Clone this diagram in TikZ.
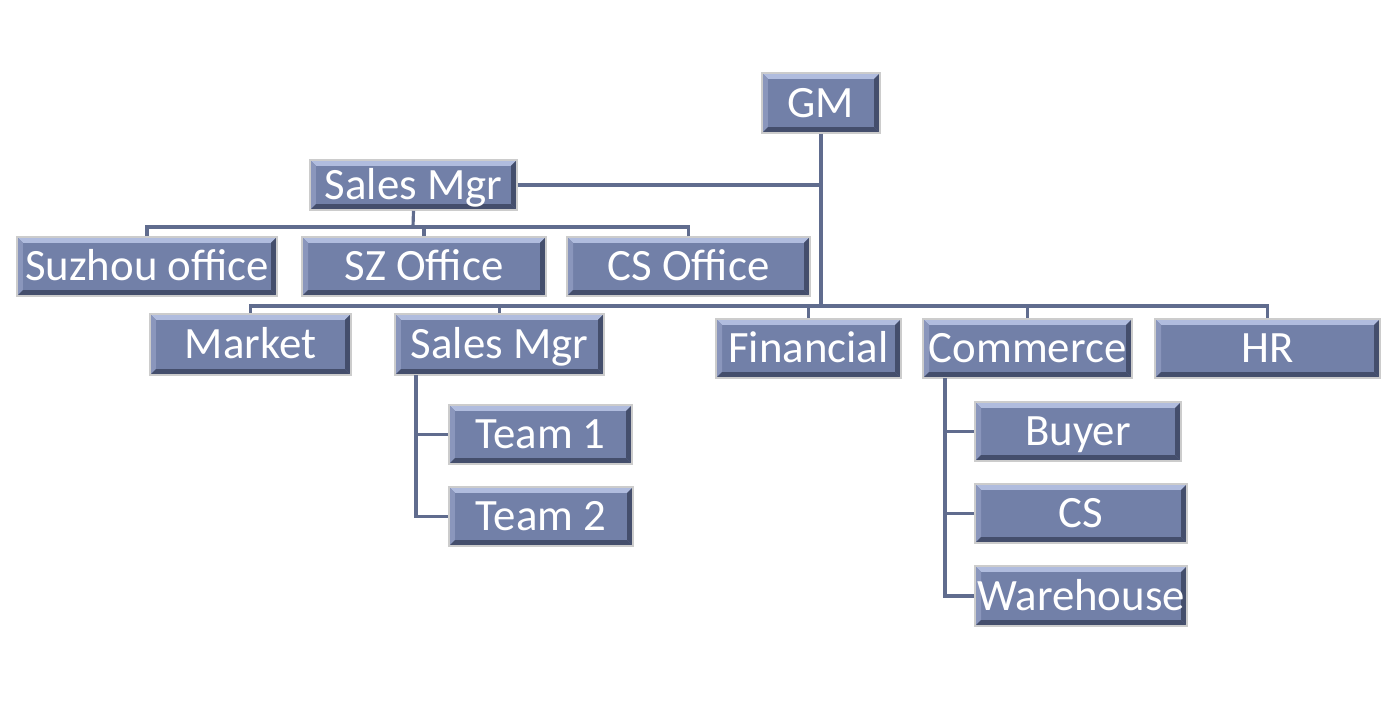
\documentclass[tikz,border=0pt]{standalone}
\usepackage{fontspec}
\setmainfont{Carlito}
\usepackage{xcolor,tikz}
\usetikzlibrary{calc,positioning}
\tikzset{>=stealth}
\definecolor{boxfill}{RGB}{114,128,168}
\definecolor{boxtop}{RGB}{176,188,222}
\definecolor{boxleft}{RGB}{138,150,188}
\definecolor{boxdark}{RGB}{68,78,108}
\definecolor{orgline}{RGB}{96,108,142}
\def\bev{3.4pt}
\tikzset{
  unit/.style={draw=gray!40, line width=0.9pt, fill=boxfill, text=white, inner sep=0pt,
    minimum height=1.18cm, text height=20pt, text depth=4pt,
    font=\fontsize{25.5}{30}\selectfont,
    path picture={
      \coordinate (bbnw) at (path picture bounding box.north west);
      \coordinate (bbne) at (path picture bounding box.north east);
      \coordinate (bbsw) at (path picture bounding box.south west);
      \coordinate (bbse) at (path picture bounding box.south east);
      \fill[boxtop] (bbnw) -- (bbne) -- ([shift={(-\bev,-\bev)}]bbne) -- ([shift={(\bev,-\bev)}]bbnw) -- cycle;
      \fill[boxleft] (bbnw) -- (bbsw) -- ([shift={(\bev,\bev)}]bbsw) -- ([shift={(\bev,-\bev)}]bbnw) -- cycle;
      \fill[boxdark] (bbne) -- (bbse) -- ([shift={(-\bev,\bev)}]bbse) -- ([shift={(-\bev,-\bev)}]bbne) -- cycle;
      \fill[boxdark] (bbsw) -- (bbse) -- ([shift={(-\bev,\bev)}]bbse) -- ([shift={(\bev,\bev)}]bbsw) -- cycle;
    }},
  link/.style={orgline, line width=1.8pt}
}

\begin{document}
\begin{tikzpicture}[x=0.02cm,y=-0.02cm]
\useasboundingbox (0,0) rectangle (1383,700);
%%%% top
\node[unit, minimum width=2.36cm, minimum height=1.20cm] (gm) at (821,103) {GM};
\node[unit, minimum width=4.14cm, minimum height=1.00cm] (sales) at (413.5,185) {Sales Mgr};
%%%% offices
\node[unit, minimum width=5.20cm] (suzhou) at (147,266.5) {Suzhou office};
\node[unit, minimum width=4.88cm] (sz) at (424,266.5) {SZ Office};
\node[unit, minimum width=4.86cm] (csoff) at (688.5,266.5) {CS Office};
%%%% departments
\node[unit, minimum width=4.02cm, minimum height=1.22cm] (market) at (250.5,344.5) {Market};
\node[unit, minimum width=4.18cm, minimum height=1.22cm] (salestwo) at (499.5,344.5) {Sales Mgr};
\node[unit, minimum width=3.70cm] (financial) at (808.5,348.5) {Financial};
\node[unit, minimum width=4.18cm] (commerce) at (1027.5,348.5) {Commerce};
\node[unit, minimum width=4.50cm] (hr) at (1267.5,348.5) {HR};
%%%% teams
\node[unit, minimum width=3.66cm] (teamone) at (540.5,434.5) {Team 1};
\node[unit, minimum width=3.68cm] (teamtwo) at (541,516.5) {Team 2};
\node[unit, minimum width=4.12cm] (buyer) at (1078,431.5) {Buyer};
\node[unit, minimum width=4.24cm] (cs) at (1081,513.5) {CS};
\node[unit, minimum width=4.24cm, minimum height=1.20cm] (warehouse) at (1081,596) {Warehouse};
%%%% connectors
\coordinate (gmjoin) at (821,306);
\coordinate (salesjoin) at (413,227);
\coordinate (twostem) at (416,375);
\coordinate (comstem) at (945,378);
\draw[link] (gm.south) -- (gmjoin);
\draw[link] (sales.east) -- (sales.east -| gm.south);
\draw[link] (sales.south) -- (salesjoin);
\draw[link] (suzhou.north) |- (salesjoin);
\draw[link] (sz.north) |- (salesjoin);
\draw[link] (csoff.north) |- (salesjoin);
\draw[link] (market.north) |- (gmjoin);
\draw[link] (salestwo.north) |- (gmjoin);
\draw[link] (financial.north) |- (gmjoin);
\draw[link] (commerce.north) |- (gmjoin);
\draw[link] (hr.north) |- (gmjoin);
\draw[link] (twostem) |- (teamtwo.west);
\draw[link] (teamone.west) -- (teamone.west -| twostem);
\draw[link] (comstem) |- (warehouse.west);
\draw[link] (buyer.west) -- (buyer.west -| comstem);
\draw[link] (cs.west) -- (cs.west -| comstem);
\end{tikzpicture}
\end{document}
